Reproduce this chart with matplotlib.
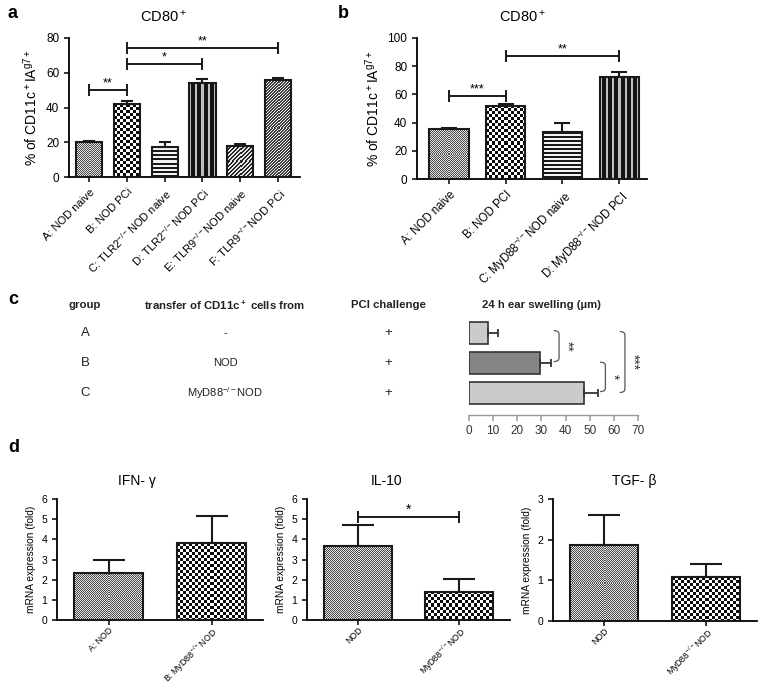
import numpy as np
import matplotlib
matplotlib.use("Agg")
import matplotlib.pyplot as plt
from matplotlib.path import Path
from matplotlib.patches import PathPatch
from matplotlib.transforms import blended_transform_factory

plt.rcParams.update({
    "font.family": ["Liberation Sans", "DejaVu Sans"],
    "mathtext.default": "regular",
    "axes.linewidth": 1.3,
    "xtick.major.width": 1.1,
    "ytick.major.width": 1.1,
    "xtick.major.size": 3.5,
    "ytick.major.size": 3.5,
})

# ---- panel a: CD80+ in TLR knock-outs
a_labels = ["A: NOD naive", "B: NOD PCi", "C: TLR2$^{-/-}$NOD naive",
            "D: TLR2$^{-/-}$NOD PCi", "E: TLR9$^{-/-}$NOD naive", "F: TLR9$^{-/-}$NOD PCi"]
a_values = [20.0, 42.0, 17.5, 54.0, 18.0, 56.0]
a_errors = [0.6, 1.6, 2.8, 2.6, 0.8, 1.0]
a_sig = [(0, 1, 50, "**"), (1, 3, 65, "*"), (1, 5, 74, "**")]

# ---- panel b: CD80+ in MyD88 knock-out
b_labels = ["A: NOD naive", "B: NOD PCI", "C: MyD88$^{-/-}$NOD naive", "D: MyD88$^{-/-}$NOD PCI"]
b_values = [35.5, 52.0, 33.0, 72.5]
b_errors = [0.4, 0.9, 6.5, 3.5]
b_sig = [(0, 1, 59, "***"), (1, 3, 87, "**")]

# ---- panel c: ear swelling after transfer
c_groups = ["A", "B", "C"]
c_donors = ["-", "NOD", "MyD88$^{-/-}$NOD"]
c_pci = ["+", "+", "+"]
c_values = [8.0, 29.5, 47.5]
c_errors = [4.0, 4.3, 6.0]
c_colors = ["#cbcbcb", "#858585", "#cbcbcb"]
# (row from, row to, bracket x, stars)
c_sig = [(-0.08, 0.95, 37.3, "**"), (0.97, 1.95, 56.5, "*"), (-0.05, 1.98, 64.6, "***")]

# ---- panel d: cytokine mRNA
d_titles = ["IFN- γ", "IL-10", "TGF- β"]
d_labels = [["A: NOD", "B: MyD88$^{-/-}$NOD"],
            ["NOD", "MyD88$^{-/-}$NOD"],
            ["NOD", "MyD88$^{-/-}$NOD"]]
d_values = [[2.35, 3.8], [3.65, 1.4], [1.87, 1.08]]
d_errors = [[0.62, 1.38], [1.05, 0.65], [0.73, 0.32]]
d_sig = [None, (0, 1, 5.1, "*"), None]

W, H = 762, 687
fig = plt.figure(figsize=(W / 100, H / 100), dpi=100)


def px_axes(left, top, right, bottom):
    return fig.add_axes([left / W, 1 - bottom / H, (right - left) / W, (bottom - top) / H])


def texture(kind, w, h):
    yy, xx = np.mgrid[0:h, 0:w]
    if kind == "fine":
        img = np.where((xx + yy) % 2 == 0, 0.3, 0.88)
    elif kind == "checker":
        img = np.where(((xx // 3) + (yy // 3)) % 2 == 0, 0.05, 1.0)
    elif kind == "hlines":
        img = np.where(yy % 4 < 2, 0.1, 0.95)
    elif kind == "vlines":
        img = np.where(xx % 6 < 2, 0.75, 0.08)
    elif kind == "diag":
        img = np.where((xx + yy) % 4 < 2, 0.15, 0.9)
    else:
        img = np.where((xx + yy) % 3 < 2, 0.25, 0.95)
    return img


def textured_bars(ax, values, errors, kinds, width, capsize):
    x = np.arange(len(values))
    bars = ax.bar(x, values, width=width, facecolor="none", edgecolor="#1a1a1a",
                  linewidth=1.5, zorder=3)
    xl, yl = ax.get_xlim(), ax.get_ylim()
    for bar, kind in zip(bars, kinds):
        x0, y0 = bar.get_x(), bar.get_y()
        x1, y1 = x0 + bar.get_width(), y0 + bar.get_height()
        (p0x, p0y), (p1x, p1y) = ax.transData.transform([(x0, y0), (x1, y1)])
        w = max(int(round(abs(p1x - p0x))), 1)
        h = max(int(round(abs(p1y - p0y))), 1)
        im = ax.imshow(texture(kind, w, h), cmap="gray", vmin=0, vmax=1,
                       extent=(x0, x1, y0, y1), aspect="auto",
                       interpolation="nearest", zorder=2)
        im.set_clip_path(bar)
    ax.set_xlim(xl)
    ax.set_ylim(yl)
    ax.errorbar(x, values, yerr=[np.zeros(len(errors)), errors], fmt="none",
                ecolor="#1a1a1a", elinewidth=1.5, capsize=capsize, capthick=1.5, zorder=4)


def sig_bracket(ax, i, j, y, stars, fs=9, off=0.0):
    ax.plot([i, j], [y, y], color="#1a1a1a", lw=1.4, marker="|", markersize=8,
            markeredgewidth=1.4, zorder=5, clip_on=False)
    ax.text((i + j) / 2, y + off, stars, ha="center", va="bottom", fontsize=fs)


def style(ax):
    ax.spines["top"].set_visible(False)
    ax.spines["right"].set_visible(False)
    ax.tick_params(direction="out")


# ---------------- panel a
ax = px_axes(69, 38, 300, 177)
ax.set_xlim(-0.53, 5.58)
ax.set_ylim(0, 80)
textured_bars(ax, a_values, a_errors,
              ["fine", "checker", "hlines", "vlines", "diag", "diag2"], 0.69, 4.5)
for i, j, y, s in a_sig:
    sig_bracket(ax, i, j, y, s, off=0.3)
ax.set_yticks(np.arange(0, 81, 20))
ax.set_xticks(range(len(a_labels)))
ax.set_xticklabels(a_labels, rotation=45, ha="right", rotation_mode="anchor", fontsize=8)
ax.tick_params(axis="y", labelsize=8.5)
ax.set_ylabel("% of CD11c$^+$IA$^{g7+}$", fontsize=10)
ax.set_title("CD80$^+$", fontsize=10.5, x=0.41, pad=12)
style(ax)
fig.text(8 / W, 1 - 13 / H, "a", fontsize=13, fontweight="bold", va="center")

# ---------------- panel b
ax = px_axes(417, 38, 647, 179)
ax.set_xlim(-0.565, 3.49)
ax.set_ylim(0, 100)
textured_bars(ax, b_values, b_errors, ["fine", "checker", "hlines", "vlines"], 0.69, 6)
for i, j, y, s in b_sig:
    sig_bracket(ax, i, j, y, s, off=0.4)
ax.set_yticks(np.arange(0, 101, 20))
ax.set_xticks(range(len(b_labels)))
ax.set_xticklabels(b_labels, rotation=45, ha="right", rotation_mode="anchor", fontsize=8.3)
ax.tick_params(axis="y", labelsize=8.5)
ax.set_ylabel("% of CD11c$^+$IA$^{g7+}$", fontsize=10)
ax.set_title("CD80$^+$", fontsize=10.5, x=0.46, pad=12)
style(ax)
fig.text(338 / W, 1 - 13 / H, "b", fontsize=13, fontweight="bold", va="center")

# ---------------- panel c
ax = px_axes(469, 318, 638, 415)
rows = np.arange(len(c_groups))
ax.barh(rows, c_values, height=0.73, color=c_colors, edgecolor="#333333", linewidth=1.2, zorder=3)
ax.errorbar(c_values, rows, xerr=[np.zeros(3), c_errors], fmt="none", ecolor="#333333",
            elinewidth=1.3, capsize=3, capthick=1.3, zorder=4)
ax.set_xlim(0, 70)
ax.set_ylim(2.73, -0.5)
ax.set_yticks([])
for s in ["top", "right", "left"]:
    ax.spines[s].set_visible(False)
ax.spines["bottom"].set_color("#9a9a9a")
ax.spines["bottom"].set_linewidth(1.0)
ax.set_xticks(np.arange(0, 71, 10))
ax.tick_params(axis="x", colors="#9a9a9a", labelcolor="#333333", labelsize=8.5, length=4)

for r0, r1, xb, stars in c_sig:
    hook = 2.2
    verts = [(xb - hook, r0), (xb, r0), (xb, r0 + 0.12), (xb, r1 - 0.12), (xb, r1), (xb - hook, r1)]
    codes = [Path.MOVETO, Path.CURVE3, Path.CURVE3, Path.LINETO, Path.CURVE3, Path.CURVE3]
    ax.add_patch(PathPatch(Path(verts, codes), fill=False, edgecolor="#555555", lw=0.9, clip_on=False))
    ax.text(xb + 3.2, (r0 + r1) / 2, stars, rotation=270, ha="center", va="center",
            fontsize=10, color="#333333", clip_on=False)

tr = blended_transform_factory(fig.transFigure, ax.transData)
header_y = 318 - 13
for hx, htxt in [(85, "group"), (225, "transfer of CD11c$^+$ cells from"),
                 (388, "PCI challenge"), (541, "24 h ear swelling (µm)")]:
    fig.text(hx / W, 1 - header_y / H, htxt, ha="center", va="center", fontsize=8.2,
             fontweight="bold", color="#222222")
for r, g, dn, p in zip(rows, c_groups, c_donors, c_pci):
    ax.text(85 / W, r, g, transform=tr, ha="center", va="center", fontsize=9.5, color="#222222")
    ax.text(225 / W, r, dn, transform=tr, ha="center", va="center", fontsize=8, color="#222222")
    ax.text(388 / W, r, p, transform=tr, ha="center", va="center", fontsize=9.5, color="#222222")
fig.text(8 / W, 1 - 300 / H, "c", fontsize=13, fontweight="bold", va="center")

# ---------------- panel d
d_boxes = [(57, 499, 263, 620), (307, 499, 510, 620), (553, 499, 757, 621)]
d_ylims = [6, 6, 3]
d_title_x = [0.39, 0.39, 0.40]
for k, box in enumerate(d_boxes):
    ax = px_axes(*box)
    ax.set_xlim(-0.5, 1.5)
    ax.set_ylim(0, d_ylims[k])
    textured_bars(ax, d_values[k], d_errors[k], ["fine", "checker"], 0.67, 11.5)
    if d_sig[k] is not None:
        i, j, y, s = d_sig[k]
        sig_bracket(ax, i, j, y, s, fs=10, off=0.02)
    ax.set_yticks(np.arange(0, d_ylims[k] + 1, 1))
    ax.set_xticks([0, 1])
    ax.set_xticklabels(d_labels[k], rotation=45, ha="right", rotation_mode="anchor", fontsize=6.3)
    ax.tick_params(axis="y", labelsize=7.5)
    ax.tick_params(axis="x", pad=0.5)
    ax.set_ylabel("mRNA expression (fold)", fontsize=7.3)
    ax.set_title(d_titles[k], fontsize=10, x=d_title_x[k], pad=10)
    style(ax)
fig.text(8 / W, 1 - 448 / H, "d", fontsize=13, fontweight="bold", va="center")

fig.savefig("out.png", dpi=100)
